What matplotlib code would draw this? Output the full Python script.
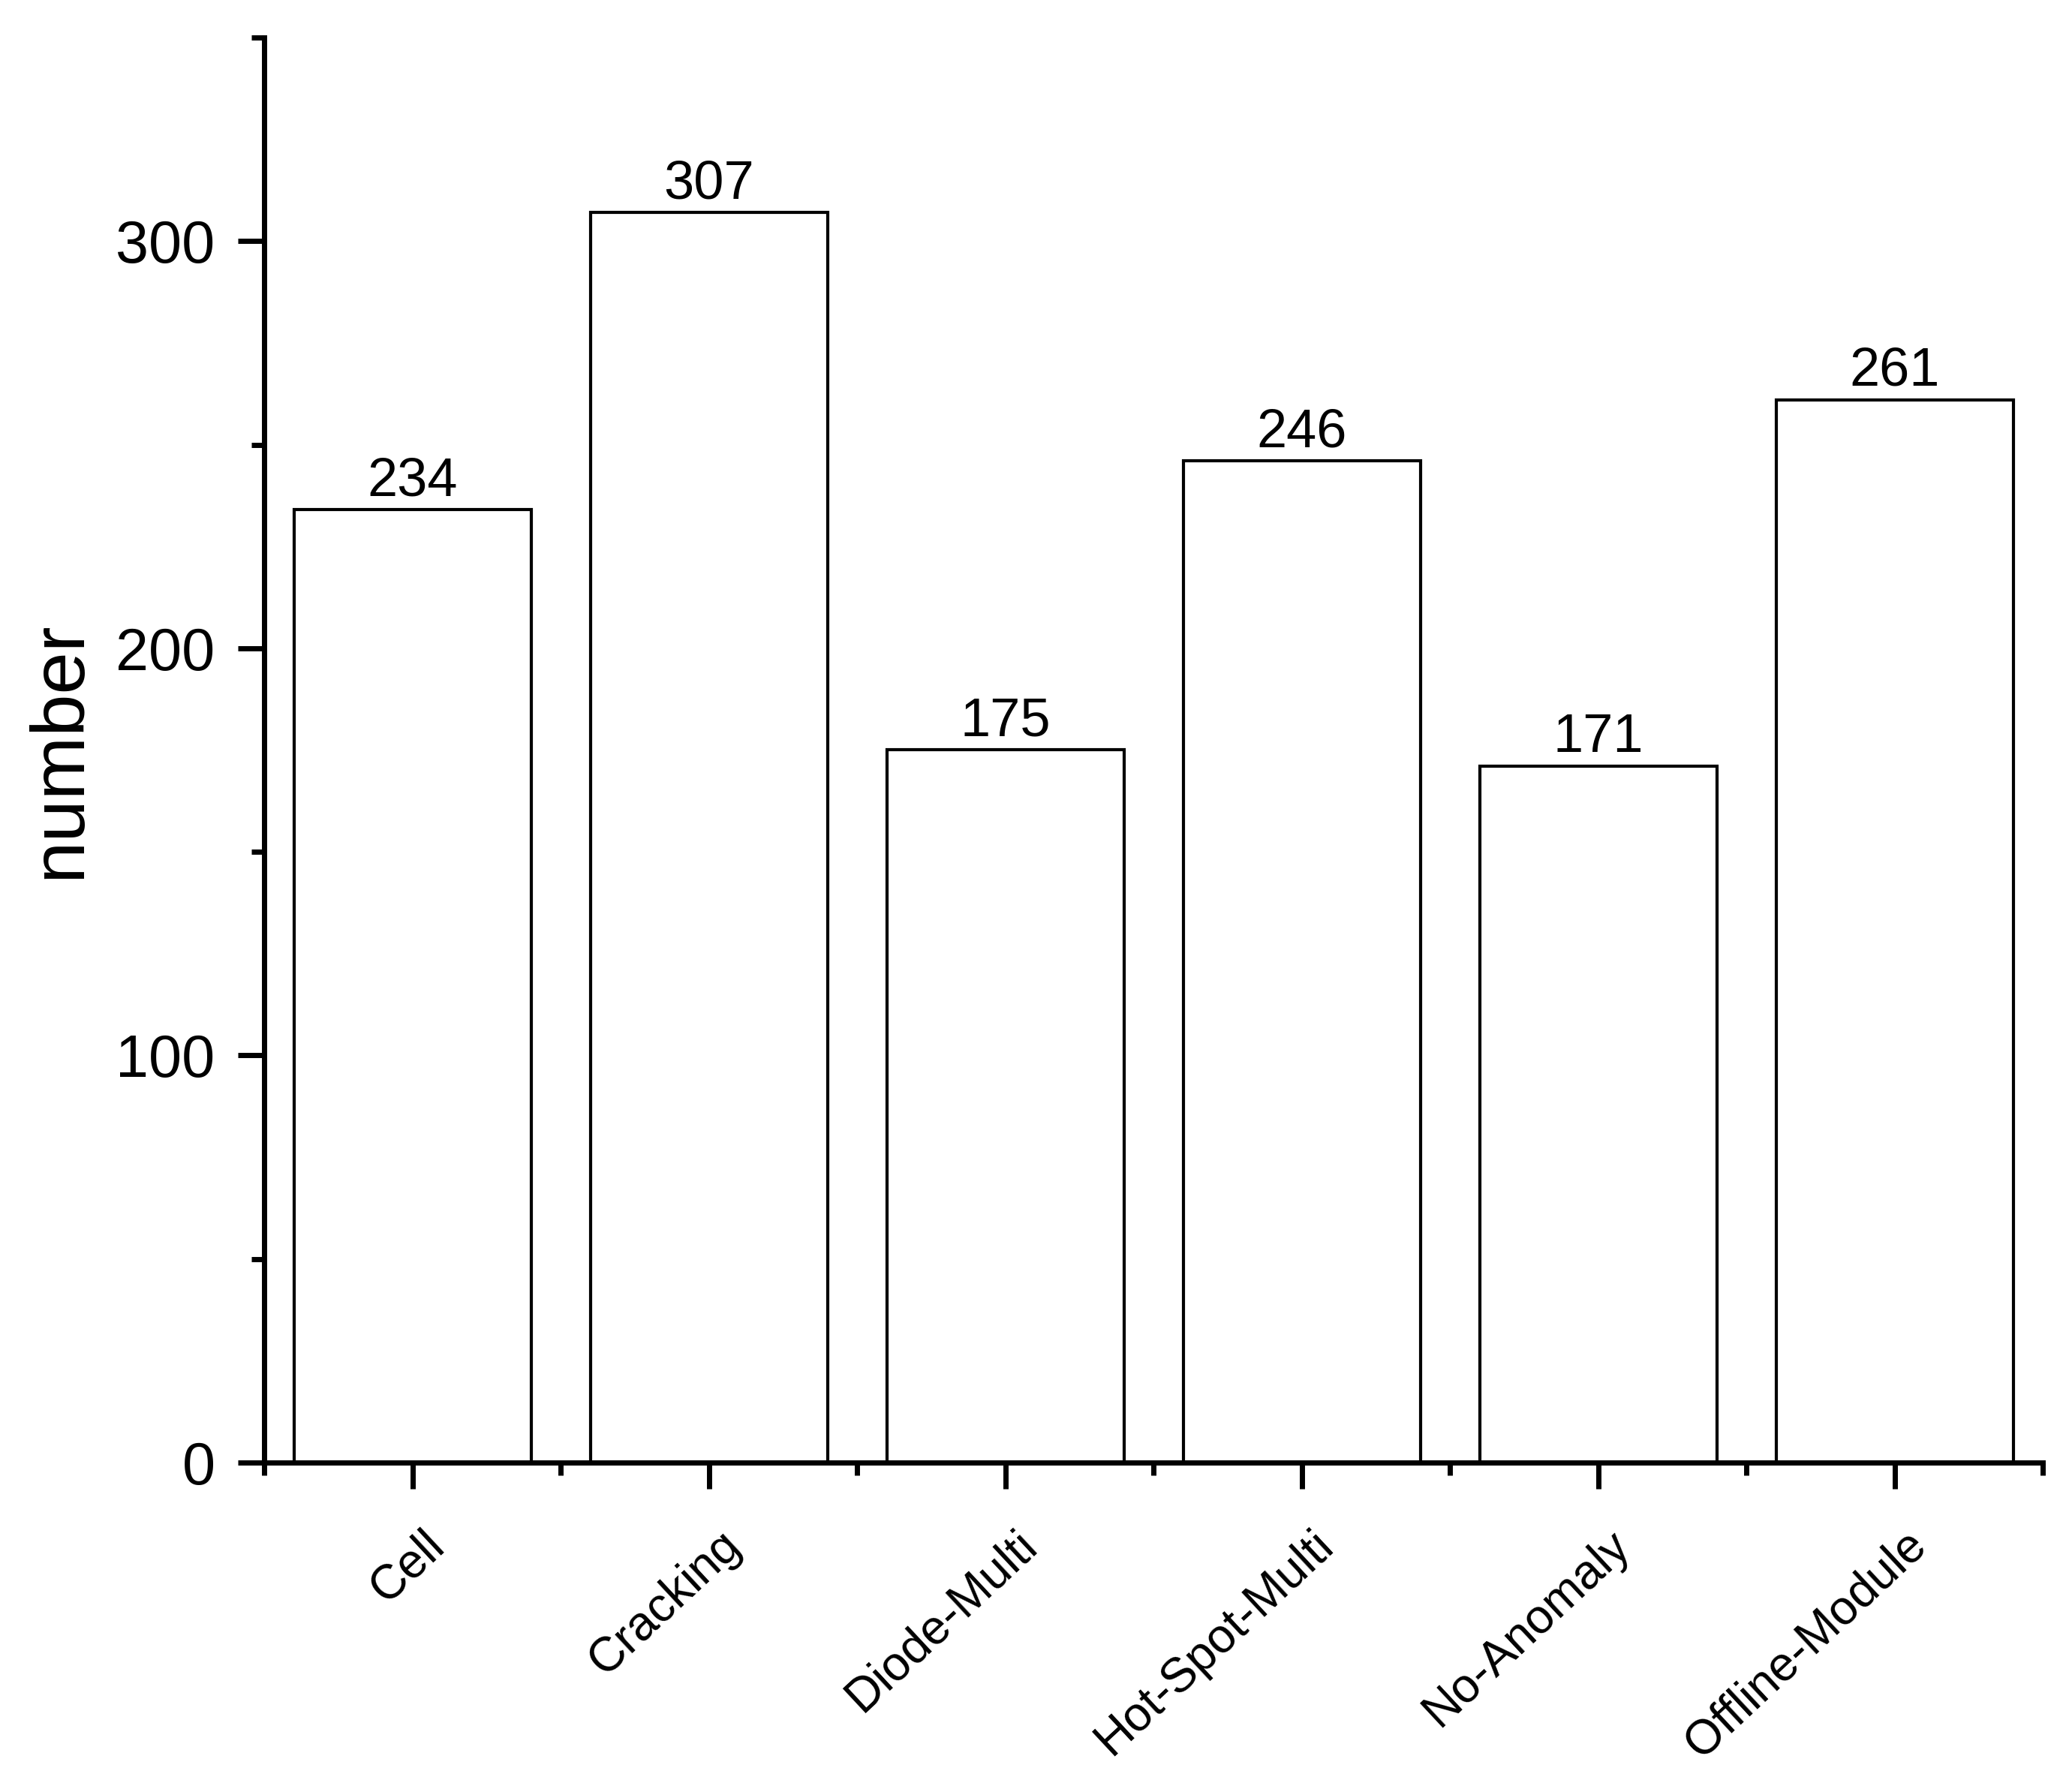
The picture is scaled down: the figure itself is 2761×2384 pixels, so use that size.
import matplotlib
matplotlib.use("Agg")
import matplotlib.pyplot as plt
from matplotlib.ticker import MultipleLocator
from matplotlib.transforms import ScaledTranslation

# values
categories = ["Cell", "Cracking", "Diode-Multi", "Hot-Spot-Multi", "No-Anomaly", "Offline-Module"]
counts = [234, 307, 175, 246, 171, 261]

plt.rcParams["font.family"] = ["Liberation Sans", "DejaVu Sans"]

fig = plt.figure(figsize=(27.61, 23.84), dpi=100)
ax = fig.add_axes([0.1275, 0.1825, 0.8584, 0.7965])

x = list(range(len(categories)))
bars = ax.bar(x, counts, width=0.8, color="white", edgecolor="black", linewidth=3)
ax.bar_label(bars, labels=[str(c) for c in counts], padding=3, fontsize=52)

ax.set_xlim(-0.5, 5.5)
ax.set_ylim(0, 350)

# axis styling: only left/bottom spines, outward ticks
for side in ["top", "right"]:
    ax.spines[side].set_visible(False)
for side in ["left", "bottom"]:
    ax.spines[side].set_linewidth(5)

ax.xaxis.set_minor_locator(MultipleLocator(1, offset=0.5))
ax.yaxis.set_major_locator(MultipleLocator(100))
ax.yaxis.set_minor_locator(MultipleLocator(50))

ax.tick_params(axis="both", which="major", direction="out", length=25, width=5)
ax.tick_params(axis="both", which="minor", direction="out", length=12, width=5)
ax.tick_params(axis="x", which="major", pad=32)
ax.tick_params(axis="y", which="major", pad=22, labelsize=57)

ax.set_xticks(x)
ax.set_xticklabels(categories, rotation=43, ha="right", va="top",
                   rotation_mode="anchor", fontsize=46)
# the end of each label sits just right of its tick
shift = ScaledTranslation(0.13, 0, fig.dpi_scale_trans)
for lab in ax.get_xticklabels():
    lab.set_transform(lab.get_transform() + shift)

ax.set_ylabel("number", fontsize=73)
ax.yaxis.set_label_coords(-0.095, 0.5)

fig.savefig("out.png", dpi=100)
